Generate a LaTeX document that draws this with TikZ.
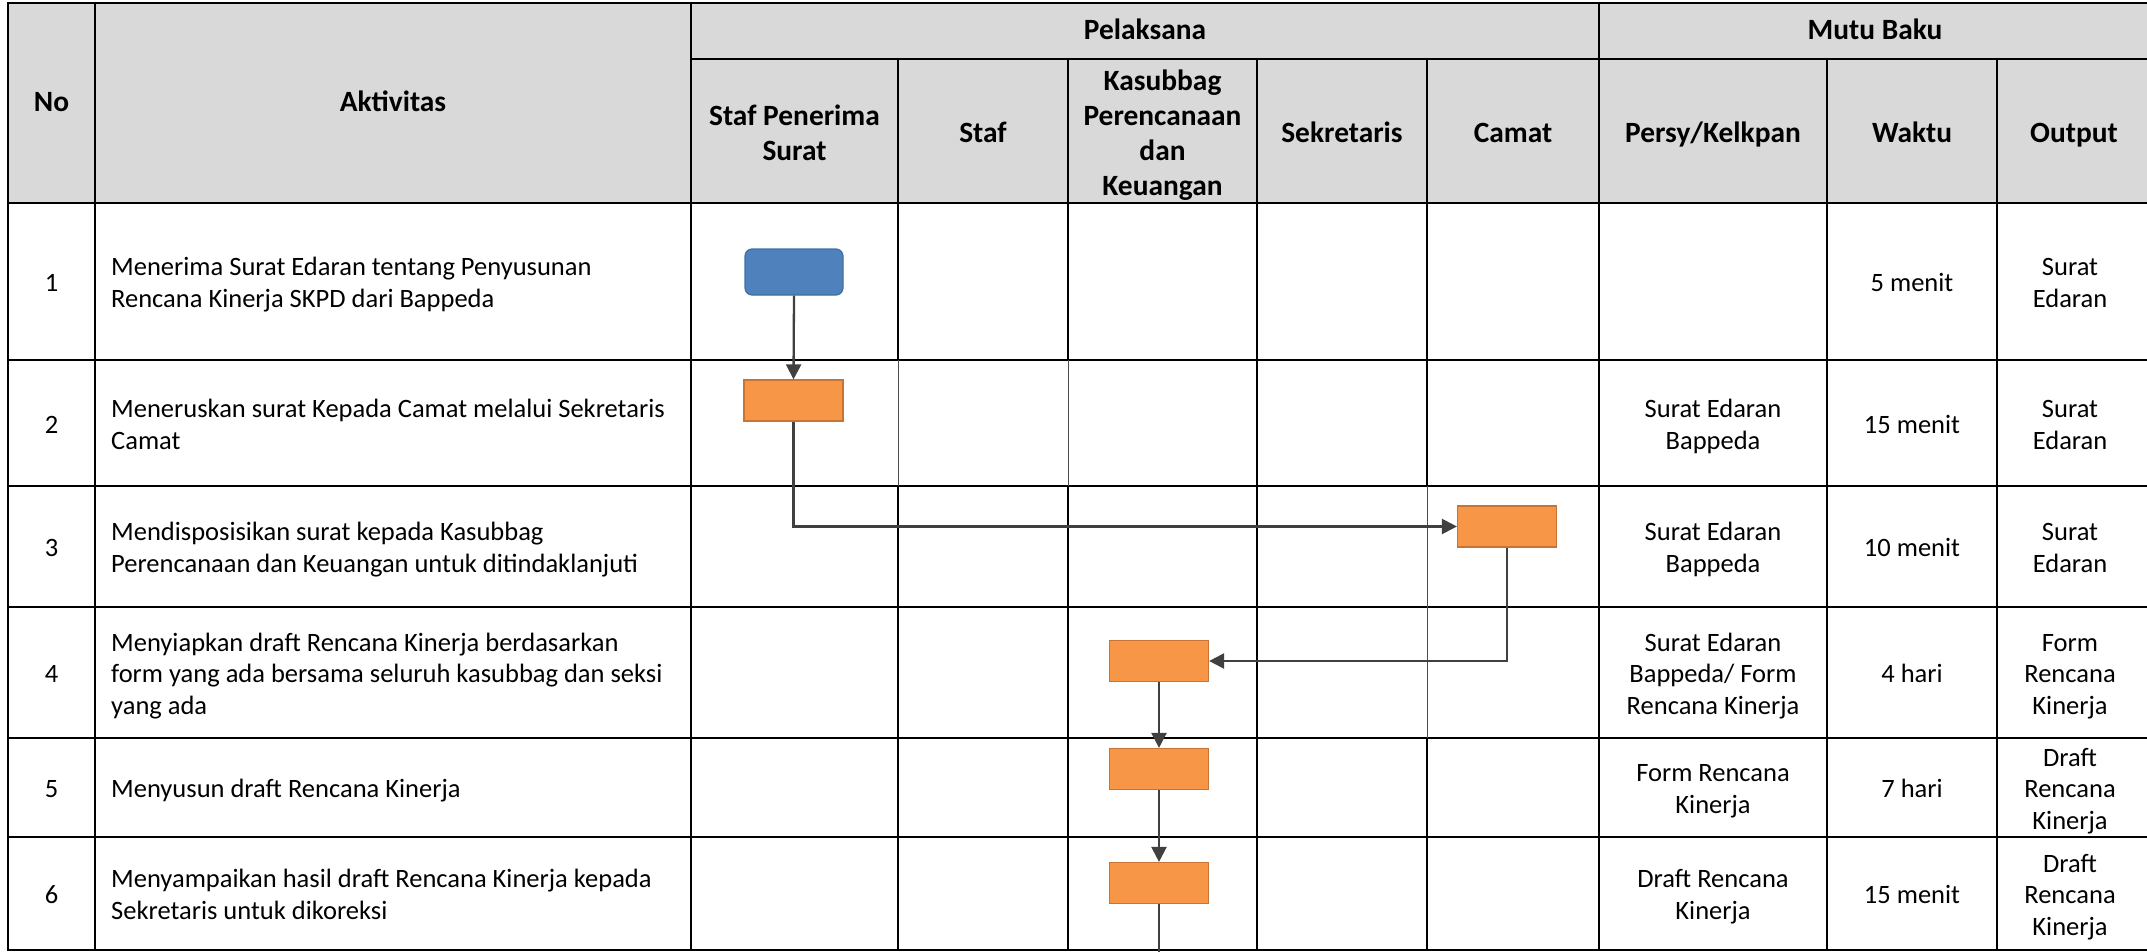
\documentclass[tikz,border=0pt]{standalone}
\usepackage{fontspec}
\setmainfont{Carlito}
\usetikzlibrary{arrows.meta}
\definecolor{hdr}{HTML}{D9D9D9}
\definecolor{orfill}{HTML}{F79646}
\definecolor{ordraw}{HTML}{C77434}
\definecolor{blfill}{HTML}{4F81BD}
\definecolor{bldraw}{HTML}{41719C}
\definecolor{connc}{HTML}{404040}
\tikzset{
  txt/.style={inner sep=0pt, font=\fontsize{26.5}{31.8}\selectfont, align=center},
  hd/.style={inner sep=0pt, font=\fontsize{29.4}{35}\selectfont\bfseries, align=center},
  act/.style={txt, align=left, anchor=west},
  hline/.style={black, line width=2.7pt, line cap=rect},
  vline/.style={black, line width=2pt},
  thinline/.style={black!70, line width=1pt},
  proc/.style={draw=ordraw, fill=orfill, line width=1.2pt, minimum width=99pt, minimum height=41pt, inner sep=0pt},
  startbox/.style={draw=bldraw, fill=blfill, line width=1.2pt, rounded corners=7pt, minimum width=98pt, minimum height=46pt, inner sep=0pt},
  flow/.style={draw=connc, line width=2.3pt, -{Triangle[length=15pt,width=15pt]}},
  flowend/.style={draw=connc, line width=2.3pt}
}
\begin{document}
\begin{tikzpicture}[x=1pt,y=-1pt]
\useasboundingbox (0,0) rectangle (2147,952);
% header background
\fill[hdr] (8,3) rectangle (2151,203);
% horizontal lines
\draw[hline] (8,3) -- (2151,3);
\draw[hline] (691,59) -- (2151,59);
\foreach \yy in {203,360,486,607,738,837,950} {
  \draw[hline] (8,\yy) -- (2151,\yy);
}
% vertical lines
\draw[vline] (8,3) -- (8,950);
\draw[vline] (95,3) -- (95,950);
\draw[vline] (691,3) -- (691,950);
\draw[vline] (898,59) -- (898,360);
\draw[vline] (898,486) -- (898,950);
\draw[thinline] (898,360) -- (898,486);
\draw[vline] (1068,59) -- (1068,360);
\draw[vline] (1068,486) -- (1068,950);
\draw[thinline] (1068,360) -- (1068,486);
\draw[vline] (1257,59) -- (1257,950);
\draw[vline] (1427,59) -- (1427,486);
\draw[vline] (1427,738) -- (1427,950);
\draw[thinline] (1427,486) -- (1427,738);
\draw[vline] (1599,3) -- (1599,950);
\draw[vline] (1827,59) -- (1827,950);
\draw[vline] (1997,59) -- (1997,950);
\draw[vline] (2151,3) -- (2151,950);

% header texts
\node[hd] (hNo) at (51.5,105) {\strut No\strut};
\node[hd] (hAkt) at (393,105) {\strut Aktivitas\strut};
\node[hd] (hPel) at (1145,33) {\strut Pelaksana\strut};
\node[hd] (hMutu) at (1875,33) {\strut Mutu Baku\strut};
\node[hd] (hSPS) at (794.5,136) {\strut Staf Penerima\\Surat\strut};
\node[hd] (hStaf) at (983,136) {\strut Staf\strut};
\node[hd] (hKas) at (1162.5,136) {\strut Kasubbag\\Perencanaan\\dan\\Keuangan\strut};
\node[hd] (hSek) at (1342,136) {\strut Sekretaris\strut};
\node[hd] (hCam) at (1513,136) {\strut Camat\strut};
\node[hd] (hPer) at (1713,136) {\strut Persy/Kelkpan\strut};
\node[hd] (hWak) at (1912,136) {\strut Waktu\strut};
\node[hd] (hOut) at (2074,136) {\strut Output\strut};

% row 1
\node[txt] (n1) at (51.5,285.5) {\strut 1\strut};
\node[act] (a1) at (111,285.5) {\strut Menerima Surat Edaran tentang Penyusunan\\Rencana Kinerja SKPD dari Bappeda\strut};
\node[txt] (w1) at (1912,285.5) {\strut 5 menit\strut};
\node[txt] (o1) at (2070,285.5) {\strut Surat\\Edaran\strut};
% row 2
\node[txt] (n2) at (51.5,427) {\strut 2\strut};
\node[act] (a2) at (111,427) {\strut Meneruskan surat Kepada Camat melalui Sekretaris\\Camat\strut};
\node[txt] (p2t) at (1713,427) {\strut Surat Edaran\\Bappeda\strut};
\node[txt] (w2) at (1912,427) {\strut 15 menit\strut};
\node[txt] (o2) at (2070,427) {\strut Surat\\Edaran\strut};
% row 3
\node[txt] (n3) at (51.5,550.5) {\strut 3\strut};
\node[act] (a3) at (111,550.5) {\strut Mendisposisikan surat kepada Kasubbag\\Perencanaan dan Keuangan untuk ditindaklanjuti\strut};
\node[txt] (p3t) at (1713,550.5) {\strut Surat Edaran\\Bappeda\strut};
\node[txt] (w3) at (1912,550.5) {\strut 10 menit\strut};
\node[txt] (o3) at (2070,550.5) {\strut Surat\\Edaran\strut};
% row 4
\node[txt] (n4) at (51.5,676.5) {\strut 4\strut};
\node[act] (a4) at (111,676.5) {\strut Menyiapkan draft Rencana Kinerja berdasarkan\\form yang ada bersama seluruh kasubbag dan seksi\\yang ada\strut};
\node[txt] (p4t) at (1713,676.5) {\strut Surat Edaran\\Bappeda/ Form\\Rencana Kinerja\strut};
\node[txt] (w4) at (1912,676.5) {\strut 4 hari\strut};
\node[txt] (o4) at (2070,676.5) {\strut Form\\Rencana\\Kinerja\strut};
% row 5
\node[txt] (n5) at (51.5,791.5) {\strut 5\strut};
\node[act] (a5) at (111,791.5) {\strut Menyusun draft Rencana Kinerja\strut};
\node[txt] (p5t) at (1713,791.5) {\strut Form Rencana\\Kinerja\strut};
\node[txt] (w5) at (1912,791.5) {\strut 7 hari\strut};
\node[txt] (o5) at (2070,791.5) {\strut Draft\\Rencana\\Kinerja\strut};
% row 6
\node[txt] (n6) at (51.5,897.5) {\strut 6\strut};
\node[act] (a6) at (111,897.5) {\strut Menyampaikan hasil draft Rencana Kinerja kepada\\Sekretaris untuk dikoreksi\strut};
\node[txt] (p6t) at (1713,897.5) {\strut Draft Rencana\\Kinerja\strut};
\node[txt] (w6) at (1912,897.5) {\strut 15 menit\strut};
\node[txt] (o6) at (2070,897.5) {\strut Draft\\Rencana\\Kinerja\strut};

% flow shapes
\node[startbox] (s1) at (794,272) {};
\node[proc] (s2) at (793.5,400.5) {};
\node[proc] (s3) at (1507,526.5) {};
\node[proc] (s4) at (1159,661) {};
\node[proc] (s5) at (1159,769) {};
\node[proc] (s6) at (1159,883) {};
\coordinate (tail) at (1159,960);

% connectors
\draw[flow] (s1.south) -- (s2.north);
\draw[flow] (s2.south) |- (s3.west);
\draw[flow] (s3.south) |- (s4.east);
\draw[flow] (s4.south) -- (s5.north);
\draw[flow] (s5.south) -- (s6.north);
\draw[flowend] (s6.south) -- (tail);
\end{tikzpicture}
\end{document}
